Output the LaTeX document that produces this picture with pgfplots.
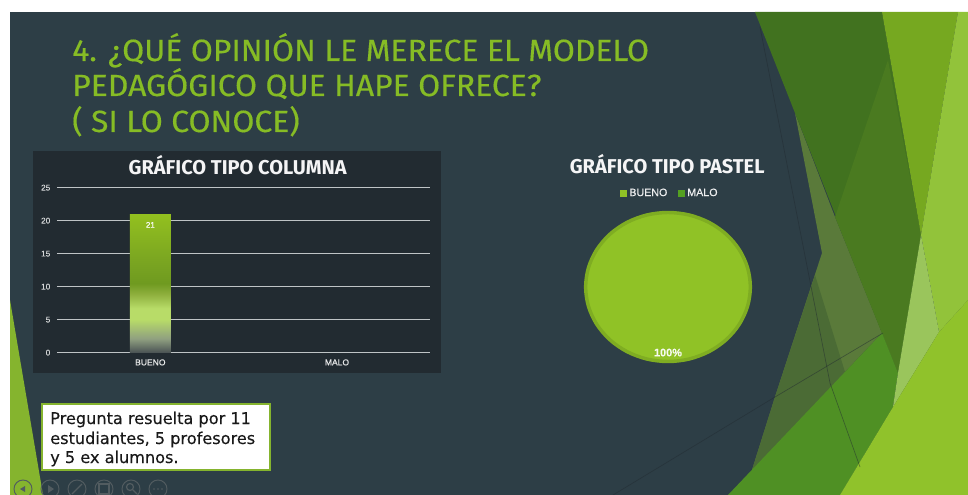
\documentclass[border=0pt]{standalone}
\usepackage{fontspec}
\setmainfont{Fira Sans}
\newfontfamily\ttlfont[FakeStretch=1.04,FakeBold=.35]{Fira Sans}
\newfontfamily\boxfont[FakeBold=.2]{DejaVu Sans}
\newfontfamily\labfont[FakeBold=.2]{Liberation Sans}
\usepackage{pgfplots}
\pgfplotsset{compat=1.18}
\definecolor{bg}{HTML}{2D3E46}
\definecolor{panel}{HTML}{222B31}
\definecolor{ttl}{HTML}{86BC25}
\definecolor{pief}{HTML}{90C226}
\definecolor{pieb}{HTML}{7FAD22}
\definecolor{malo}{HTML}{54A021}
\definecolor{gridc}{HTML}{BFC4C6}
\definecolor{ga}{HTML}{4A5254}
\definecolor{gb}{HTML}{8F9F80}
\definecolor{gc}{HTML}{B8DC68}
\definecolor{ge}{HTML}{8FB03E}
\definecolor{gf}{HTML}{6F9A20}
\definecolor{gg}{HTML}{7AA521}
\definecolor{gh}{HTML}{93C01F}
\definecolor{d1}{HTML}{41721F}
\definecolor{d2}{HTML}{4A7A20}
\definecolor{d3}{HTML}{5A7A3A}
\definecolor{d4}{HTML}{4B6B35}
\definecolor{d5}{HTML}{4F9024}
\definecolor{d6}{HTML}{76A820}
\definecolor{d7}{HTML}{9AC55C}
\definecolor{d8}{HTML}{90C22B}
\definecolor{d9}{HTML}{92C33A}
\definecolor{lft}{HTML}{85B42E}
\pgfdeclareverticalshading{barshade}{100bp}{
 color(0bp)=(ga); color(25bp)=(ga); color(30bp)=(gb);
 color(37bp)=(gc); color(41bp)=(gc); color(46bp)=(ge); color(50bp)=(gf);
 color(58bp)=(gg); color(75bp)=(gh); color(100bp)=(gh)}
\begin{document}
\begin{tikzpicture}
\clip (0pt,0pt) rectangle (726pt,-371.25pt);
\begin{scope}[x=.75pt,y=-.75pt]
\fill[white] (0,0) rectangle (968,495);
\fill[bg] (10,12) rectangle (968,495);
% right decoration
\fill[d3] (795,113) -- (835,217) -- (882,333) -- (752,470) -- (775,397) -- (822,253) -- cycle;
\fill[d4] (882,333) -- (845,372) -- (860,467) -- (752,470) -- (775,397) -- (815,275) -- (845,372) -- cycle;
\fill[d1] (755,12) -- (882,12) -- (921,235) -- (898,373) -- cycle;
\fill[d2] (888,60) -- (921,235) -- (898,373) -- (835,217) -- cycle;
\fill[d5] (882,333) -- (898,373) -- (893,407) -- (840,495) -- (728,495) -- cycle;
\fill[d6] (882,12) -- (958,12) -- (921,235) -- cycle;
\fill[d9] (958,12) -- (968,12) -- (968,300) -- (939,332) -- (921,235) -- cycle;
\fill[d7] (921,235) -- (939,332) -- (893,407) -- (898,373) -- cycle;
\fill[d8] (968,300) -- (968,495) -- (840,495) -- (893,407) -- (939,332) -- cycle;
\draw[panel,opacity=.5,line width=.5pt] (760,27) -- (830,383) -- (860,467);
\draw[panel,opacity=.5,line width=.5pt] (613,495) -- (775,397) -- (883,333);
% left triangle
\fill[lft] (10,300) -- (10,495) -- (43,495) -- cycle;
% title
\node[anchor=base west,inner sep=0,text=ttl,font=\ttlfont\fontsize{23pt}{24pt}\selectfont] at (72,61) {4. ¿QUÉ OPINIÓN LE MERECE EL MODELO};
\node[anchor=base west,inner sep=0,text=ttl,font=\ttlfont\fontsize{23pt}{24pt}\selectfont] at (72,96) {PEDAGÓGICO QUE HAPE OFRECE?};
\node[anchor=base west,inner sep=0,text=ttl,font=\ttlfont\fontsize{23pt}{24pt}\selectfont] at (72,132) {( SI LO CONOCE)};
% panel
\fill[panel] (33,151) rectangle (441,373);
% white box
\fill[white,draw=lft,line width=1.2pt] (42,404) rectangle (270,470);
\node[anchor=base west,inner sep=0,font=\boxfont\fontsize{12.1pt}{14pt}\selectfont,text=black!90] at (50,424) {Pregunta resuelta por 11};
\node[anchor=base west,inner sep=0,font=\boxfont\fontsize{12.1pt}{14pt}\selectfont,text=black!90] at (50,444) {estudiantes, 5 profesores};
\node[anchor=base west,inner sep=0,font=\boxfont\fontsize{12.1pt}{14pt}\selectfont,text=black!90] at (50,463) {y 5 ex alumnos.};
% slideshow controls
\foreach \x in {23,50,77,104,131,158}
  \draw[gray!45!bg,line width=.7pt] (\x,489) circle[radius=9];
\fill[gray!45!bg] (25,486) -- (20,489) -- (25,492) -- cycle;
\fill[gray!45!bg] (48,485) -- (54,489) -- (48,493) -- cycle;
\draw[gray!45!bg,line width=1pt] (72,494) -- (82,484);
\draw[gray!45!bg,line width=.8pt] (99,484) rectangle (109,494);
\draw[gray!45!bg,line width=.9pt] (130,487) circle[radius=3.5] (133,490) -- (137,494);
\fill[gray!45!bg] (154,489) circle[radius=.9] (158,489) circle[radius=.9] (162,489) circle[radius=.9];
\end{scope}
\begin{axis}[
  at={(42.75pt,-264.5pt)},anchor=south west,scale only axis,
  width=280pt,height=123.75pt,
  xmin=-0.5,xmax=1.5,ymin=0,ymax=25,
  ytick={0,5,10,15,20,25},xtick={0,1},xticklabels={BUENO,MALO},
  ymajorgrids,
  grid style={gridc,line width=.75pt},
  major tick length=0pt,
  axis line style={draw=none},
  x tick label style={font=\labfont\fontsize{6.4pt}{7pt}\selectfont,text=white!90!panel,yshift=-1.5pt},
  y tick label style={font=\labfont\fontsize{6.2pt}{7pt}\selectfont,text=white!80!panel,xshift=-1.5pt},
  /pgf/number format/assume math mode=true,
  title={\bfseries GRÁFICO TIPO COLUMNA},
  title style={font=\fontsize{15pt}{16pt}\selectfont,text=white!95!panel,at={(0.484,1)},anchor=base,yshift=4pt},
  ]
\addplot[ybar,bar width=30.75pt,draw=none,shading=barshade,
  nodes near coords,
  nodes near coords align={anchor=north},
  every node near coord/.append style={font=\labfont\fontsize{6pt}{7pt}\selectfont,text=white,yshift=-2.5pt,/pgf/number format/assume math mode=true}]
  coordinates {(0,21)};
\end{axis}
% pie
\begin{axis}[
  at={(438pt,-272.25pt)},anchor=south west,scale only axis,
  width=126pt,height=114pt,
  xmin=-1.02,xmax=1.02,ymin=-1.02,ymax=1.02,
  hide axis,clip=false,
  title={\bfseries GRÁFICO TIPO PASTEL},
  title style={font=\fontsize{15pt}{16pt}\selectfont,text=white!95!bg,at={(0.495,1)},anchor=base,yshift=21.8pt},
  legend columns=2,
  legend style={at={(0.5,1)},anchor=south,xshift=1.6pt,yshift=7.5pt,draw=none,fill=none,
    font=\labfont\fontsize{8pt}{9pt}\selectfont,text=white!92!bg,
    /tikz/every even column/.append style={column sep=6pt},inner sep=0pt},
  legend image code/.code={\fill[#1,draw=none] (0pt,-2.6pt) rectangle (5pt,2.4pt);},
  ]
\addplot[fill=pief,draw=pieb,line width=2.6pt,smooth cycle,tension=.55] coordinates {
 (1,0)(.966,.259)(.866,.5)(.707,.707)(.5,.866)(.259,.966)(0,1)
 (-.259,.966)(-.5,.866)(-.707,.707)(-.866,.5)(-.966,.259)(-1,0)
 (-.966,-.259)(-.866,-.5)(-.707,-.707)(-.5,-.866)(-.259,-.966)(0,-1)
 (.259,-.966)(.5,-.866)(.707,-.707)(.866,-.5)(.966,-.259)};
\addlegendentry{BUENO}
\addlegendimage{fill=malo,draw=malo}
\addlegendentry{MALO}
\node[font=\labfont\bfseries\fontsize{8.2pt}{9pt}\selectfont,text=white!92!pief] at (axis cs:0,-.88) {100\%};
\end{axis}
\end{tikzpicture}
\end{document}
